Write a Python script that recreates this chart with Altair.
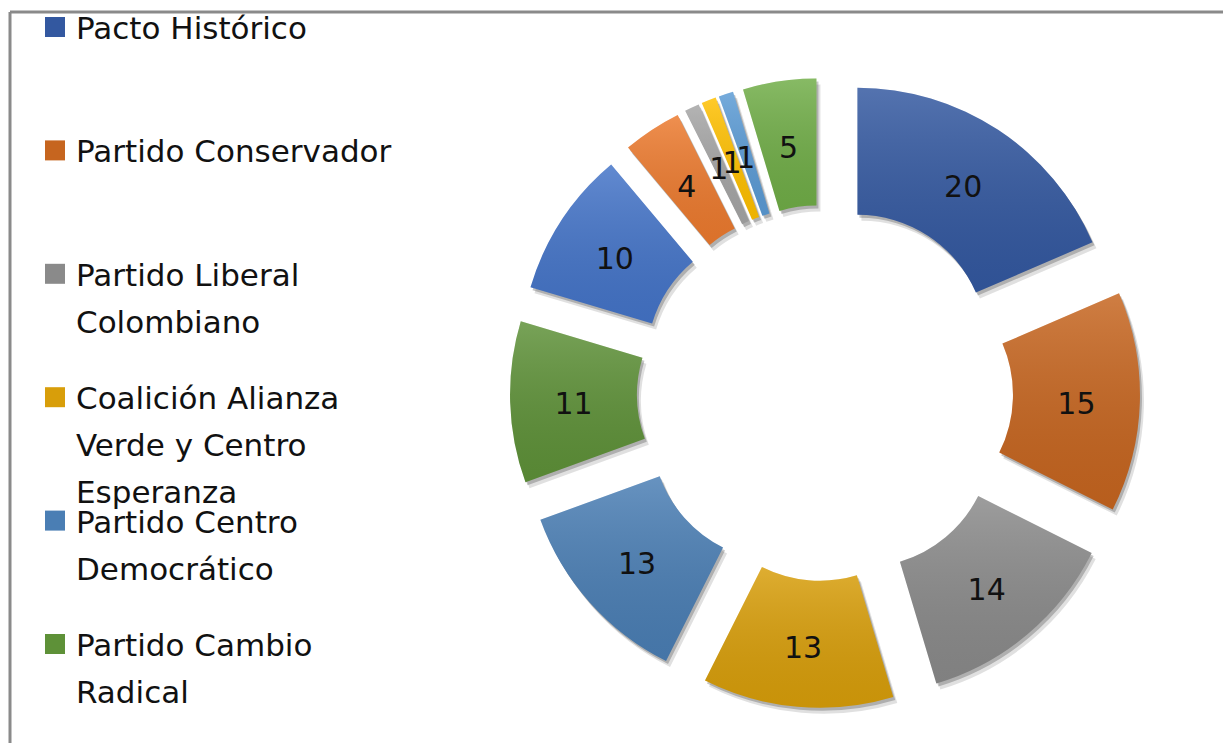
import altair as alt
import pandas as pd

# ---- data ----
seats = [20, 15, 14, 13, 13, 11, 10, 4, 1, 1, 1, 5]
slice_colors = ["#3358A0", "#C6651F", "#8A8A8A", "#D89E0A", "#4A7EB4", "#5E9138",
                "#4474C8", "#EC7A2E", "#A5A5A5", "#FFC000", "#5B9BD5", "#70AD47"]
legend_labels = [
    "Pacto Histórico",
    "Partido Conservador",
    "Partido Liberal\nColombiano",
    "Coalición Alianza\nVerde y Centro\nEsperanza",
    "Partido Centro\nDemocrático",
    "Partido Cambio\nRadical",
]
legend_colors = slice_colors[:6]

# ---- layout constants ----
CX, CY = 825, 393
EXPLODE = 59
R_OUT, R_IN = 256, 129
R_MID = (R_OUT + R_IN) / 2
LEG_TOP, LEG_STEP = 27, 123.4
FONT = "DejaVu Sans"

slices = pd.DataFrame({"order": list(range(len(seats))), "seats": seats, "color": slice_colors})
legend = pd.DataFrame({"idx": list(range(len(legend_labels))), "label": legend_labels,
                       "color": legend_colors})

base = (
    alt.Chart(slices)
    .transform_joinaggregate(total="sum(seats)")
    .transform_window(cum="sum(seats)", sort=[alt.SortField("order")], frame=[None, 0])
    .transform_calculate(t0="2*PI*(datum.cum - datum.seats)/datum.total")
    .transform_calculate(t1="2*PI*datum.cum/datum.total")
    .transform_calculate(mid="(datum.t0 + datum.t1)/2")
    .transform_calculate(px=f"{CX} + {EXPLODE}*sin(datum.mid)")
    .transform_calculate(py=f"{CY} - {EXPLODE}*cos(datum.mid)")
    .transform_calculate(lx=f"datum.px + {R_MID}*sin(datum.mid)")
    .transform_calculate(ly=f"datum.py - {R_MID}*cos(datum.mid)")
    .transform_calculate(sx1="datum.px + 2", sy1="datum.py + 3",
                         sx2="datum.px + 4", sy2="datum.py + 6")
)

theta_enc = dict(theta=alt.Theta("t0:Q", scale=None), theta2=alt.Theta2("t1:Q"))

shadow2 = base.mark_arc(outerRadius=R_OUT, innerRadius=R_IN, color="#000000", opacity=0.12).encode(
    x=alt.X("sx2:Q", scale=None), y=alt.Y("sy2:Q", scale=None), **theta_enc)
shadow1 = base.mark_arc(outerRadius=R_OUT, innerRadius=R_IN, color="#000000", opacity=0.22).encode(
    x=alt.X("sx1:Q", scale=None), y=alt.Y("sy1:Q", scale=None), **theta_enc)

arcs = base.mark_arc(outerRadius=R_OUT, innerRadius=R_IN).encode(
    x=alt.X("px:Q", scale=None), y=alt.Y("py:Q", scale=None),
    color=alt.Color("color:N", scale=None), **theta_enc)

overlay = base.mark_arc(
    outerRadius=R_OUT, innerRadius=R_IN,
    color=alt.Gradient(
        gradient="linear",
        stops=[alt.GradientStop(offset=0, color="rgba(255,255,255,0.16)"),
               alt.GradientStop(offset=1, color="rgba(0,0,0,0.07)")],
        x1=0, x2=0, y1=0, y2=1,
    ),
).encode(x=alt.X("px:Q", scale=None), y=alt.Y("py:Q", scale=None), **theta_enc)

labels = base.mark_text(font=FONT, fontSize=30, color="#111111", align="center",
                        baseline="middle", dy=5).encode(
    x=alt.X("lx:Q", scale=None), y=alt.Y("ly:Q", scale=None), text="seats:Q")

leg_base = alt.Chart(legend).transform_calculate(ypos=f"{LEG_TOP} + datum.idx*{LEG_STEP}")
leg_sq = leg_base.mark_square(size=400, opacity=1).encode(
    x=alt.value(55), y=alt.Y("ypos:Q", scale=None), color=alt.Color("color:N", scale=None))
leg_txt = leg_base.mark_text(font=FONT, fontSize=31, color="#111111", align="left",
                             baseline="alphabetic", dy=12, lineBreak="\n",
                             lineHeight=47).encode(
    x=alt.value(76), y=alt.Y("ypos:Q", scale=None), text="label:N")

one = pd.DataFrame({"a": [0]})
frame_v = alt.Chart(one).mark_rule(color="#8a8a8a", strokeWidth=3).encode(
    x=alt.value(10), y=alt.value(12), y2=alt.value(743))
frame_h = alt.Chart(one).mark_rule(color="#8a8a8a", strokeWidth=3).encode(
    x=alt.value(10), x2=alt.value(1223), y=alt.value(12))

chart = (
    alt.layer(frame_v, frame_h, shadow2, shadow1, arcs, overlay, labels, leg_sq, leg_txt)
    .properties(width=1223, height=743, padding=0,
                autosize=alt.AutoSizeParams(type="none"), background="white")
    .configure_view(strokeWidth=0)
)

chart.save("out.html", embed_options={"renderer": "svg", "actions": False})
